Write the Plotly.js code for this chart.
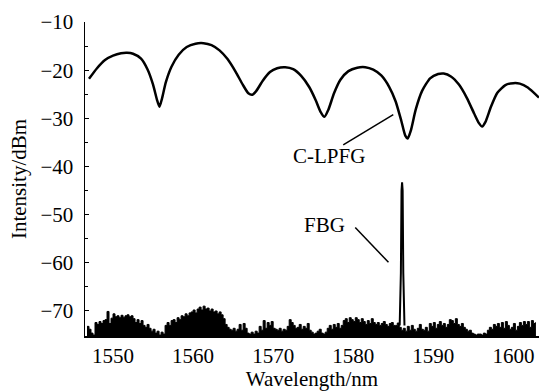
<!DOCTYPE html>
<html>
<head>
<meta charset="utf-8">
<script src="https://cdn.plot.ly/plotly-3.0.1.min.js"></script>
<style>html,body{margin:0;padding:0;background:#fff;}#chart{width:539px;height:391px;}</style>
</head>
<body>
<div id="chart"></div>
<script>
// C-LPFG transmission spectrum (wavelength nm, intensity dBm)
const lpfgWavelength = [1547.0,1548,1549,1550,1551,1551.75,1552.5,1553.5,1554.3,1555.0,1555.5,1555.8,1556.1,1556.6,1557.3,1558.2,1559.2,1560.3,1561.3,1562.3,1563.3,1564.3,1565.3,1566.2,1566.9,1567.4,1567.9,1568.7,1569.6,1570.5,1571.5,1572.5,1573.5,1574.5,1575.3,1575.9,1576.4,1576.9,1577.6,1578.4,1579.4,1580.5,1581.5,1582.5,1583.5,1584.5,1585.3,1586.0,1586.5,1586.8,1587.2,1587.8,1588.6,1589.6,1590.6,1591.3,1592.2,1593.2,1594.2,1595.1,1595.7,1596.1,1596.5,1597.2,1598.0,1599.0,1600.0,1600.8,1601.8,1603.2];
const lpfgIntensity = [-21.8,-19.6,-17.9,-17.0,-16.5,-16.4,-16.6,-17.6,-19.8,-23.0,-26.2,-27.6,-26.0,-22.5,-19.3,-16.8,-15.2,-14.5,-14.4,-14.8,-15.9,-17.7,-20.3,-23.0,-24.8,-25.1,-24.3,-22.2,-20.4,-19.6,-19.4,-19.8,-21.2,-23.5,-26.2,-28.6,-29.7,-28.2,-24.8,-22.0,-20.2,-19.5,-19.4,-19.9,-21.1,-23.5,-26.5,-30.5,-33.6,-34.2,-32.5,-28.2,-24.3,-21.7,-20.8,-20.7,-21.3,-23.0,-25.8,-29.0,-31.0,-31.7,-30.8,-27.6,-24.7,-23.1,-22.7,-22.8,-23.6,-25.7];

// FBG spectrum: noise floor sampled every 0.25 nm from 1546.75 nm
const fbgNoiseStart = 1546.75;
const fbgNoiseStep = 0.25;
const fbgNoise = [
  -73.2,-73.8,-74.6,-75.0,
  -72.4,-72.8,-72.2,-72.6,
  -72.0,-71.8,-70.1,-72.6,
  -71.5,-70.6,-71.2,-71.0,
  -71.4,-70.9,-71.3,-71.0,
  -70.8,-71.2,-71.0,-71.6,
  -72.4,-71.8,-72.6,-72.0,
  -73.0,-73.4,-72.8,-73.6,
  -74.2,-73.8,-74.6,-74.2,
  -75.0,-74.4,-74.8,-73.0,
  -72.4,-73.0,-72.0,-71.8,
  -72.4,-71.4,-71.8,-71.0,
  -71.2,-70.6,-71.0,-70.4,
  -70.2,-69.8,-70.4,-69.6,
  -69.2,-69.8,-69.0,-69.6,
  -69.4,-70.0,-69.6,-70.2,
  -70.0,-70.6,-70.2,-70.8,
  -71.6,-72.8,-73.4,-73.8,
  -74.0,-73.6,-74.2,-73.8,
  -72.8,-74.0,-72.6,-73.6,
  -74.6,-74.8,-74.4,-74.8,
  -74.2,-74.6,-73.2,-74.0,
  -72.0,-73.6,-72.4,-73.0,
  -72.2,-73.6,-73.8,-74.0,
  -73.6,-74.2,-73.8,-74.0,
  -73.2,-71.8,-72.4,-73.0,
  -73.6,-73.4,-72.8,-73.8,
  -73.2,-73.6,-72.6,-74.0,
  -74.4,-74.8,-74.6,-74.2,
  -73.8,-74.6,-74.8,-74.4,
  -73.6,-73.0,-73.8,-72.8,
  -73.4,-72.6,-73.6,-73.0,
  -72.0,-71.6,-72.4,-71.4,
  -71.8,-72.2,-71.4,-71.8,
  -72.4,-71.6,-72.2,-72.8,
  -72.0,-72.6,-71.6,-72.4,
  -72.8,-72.4,-73.0,-72.6,
  -72.2,-72.8,-73.2,-72.6,
  -72.4,-73.0,-73.0,-72.5,
  -73.4,-74.0,-73.6,-74.2,
  -73.2,-74.0,-73.0,-73.8,
  -74.2,-73.6,-72.8,-73.8,
  -74.0,-73.4,-74.2,-72.6,
  -73.2,-72.4,-73.6,-72.8,
  -72.2,-73.0,-72.6,-73.4,
  -72.8,-71.8,-72.0,-72.6,
  -71.6,-72.8,-73.2,-72.6,
  -73.4,-73.8,-74.2,-74.0,
  -74.6,-74.8,-75.0,-74.8,
  -74.8,-75.0,-74.6,-74.8,
  -74.0,-73.4,-73.8,-72.8,
  -73.2,-72.6,-73.4,-72.4,
  -73.6,-72.2,-73.0,-73.8,
  -73.4,-72.6,-74.0,-73.2,
  -72.4,-73.0,-72.2,-72.8,
  -72.2,-73.4,-72.0,-72.6,
  -72.4
];
// FBG reflection peak
const fbgPeakWavelength = [1585.8,1585.95,1586.03,1586.1,1586.17,1586.25,1586.4];
const fbgPeakIntensity = [-73.0,-62.0,-45.0,-43.3,-45.0,-62.0,-73.0];

const floorLevel = -76;

const noiseX = fbgNoise.map((_, i) => fbgNoiseStart + i * fbgNoiseStep);
const polyX = noiseX.concat([noiseX[noiseX.length - 1], noiseX[0]]);
const polyY = fbgNoise.concat([floorLevel, floorLevel]);

const serif = 'Liberation Serif, Times New Roman, serif';
const fs = 21;

const traces = [
  {
    x: polyX, y: polyY, type: 'scatter', mode: 'lines',
    line: {color: '#000', width: 1, shape: 'hv'},
    fill: 'toself', fillcolor: '#000', hoverinfo: 'skip', showlegend: false
  },
  {
    x: fbgPeakWavelength, y: fbgPeakIntensity, type: 'scatter', mode: 'lines',
    line: {color: '#000', width: 2}, showlegend: false
  },
  {
    x: lpfgWavelength, y: lpfgIntensity, type: 'scatter', mode: 'lines',
    line: {color: '#000', width: 2.5, shape: 'spline', smoothing: 0.6}, showlegend: false
  }
];

const layout = {
  width: 539, height: 391,
  margin: {l: 85, r: 0, t: 22, b: 55},
  paper_bgcolor: '#fff', plot_bgcolor: '#fff',
  font: {family: serif, size: fs, color: '#000'},
  showlegend: false,
  xaxis: {
    range: [1546.5, 1603.2],
    tickvals: [1550, 1560, 1570, 1580, 1590, 1600],
    ticks: '', showgrid: false, zeroline: false,
    showline: true, linecolor: '#000', linewidth: 1.5,
    tickfont: {family: serif, size: fs},
    title: {text: 'Wavelength/nm', font: {family: serif, size: fs}, standoff: 4}
  },
  yaxis: {
    range: [-75.2, -10],
    tickvals: [-10, -20, -30, -40, -50, -60, -70],
    ticks: 'inside', ticklen: 4, tickwidth: 1, tickcolor: '#000',
    minor: {tickvals: [-15, -25, -35, -45, -55, -65, -75], ticks: 'inside', ticklen: 2.5, tickcolor: '#000'},
    showgrid: false, zeroline: false,
    showline: true, linecolor: '#000', linewidth: 1.5,
    tickfont: {family: serif, size: fs},
    ticklabelstandoff: 6,
    title: {text: 'Intensity/dBm', font: {family: serif, size: fs}, standoff: 8}
  },
  annotations: [
    {x: 1577.0, y: -37.9, xref: 'x', yref: 'y', text: 'C-LPFG', showarrow: false, font: {family: serif, size: fs}},
    {x: 1576.4, y: -52.2, xref: 'x', yref: 'y', text: 'FBG', showarrow: false, font: {family: serif, size: fs}}
  ],
  shapes: [
    {type: 'line', xref: 'x', yref: 'y', x0: 1578.75, y0: -35.5, x1: 1585.0, y1: -29.25, line: {color: '#000', width: 1.5}},
    {type: 'line', xref: 'x', yref: 'y', x0: 1580.25, y0: -52.65, x1: 1584.4, y1: -59.9, line: {color: '#000', width: 1.5}}
  ]
};

Plotly.newPlot('chart', traces, layout, {displayModeBar: false, staticPlot: true});
</script>
</body>
</html>
